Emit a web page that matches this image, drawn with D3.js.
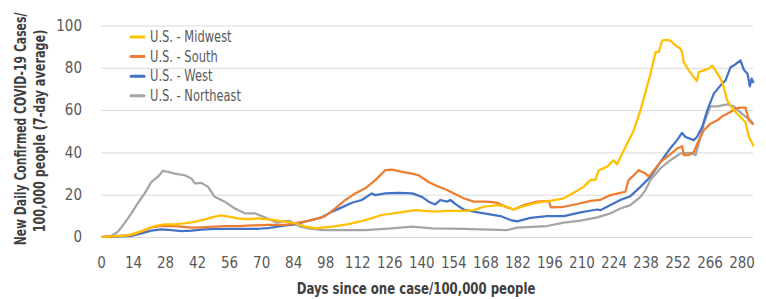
<!DOCTYPE html>
<html>
<head>
<meta charset="utf-8">
<script src="https://cdn.jsdelivr.net/npm/d3@7"></script>
<style>
  body { margin: 0; background: #fff; }
  svg { display: block; }
  text { font-family: "DejaVu Sans Condensed", "Liberation Sans", sans-serif; }
</style>
</head>
<body>
<svg id="chart" width="766" height="299"></svg>
<script>
// tick labels
const xTicks = [0, 14, 28, 42, 56, 70, 84, 98, 112, 126, 140, 154, 168, 182, 196, 210, 224, 238, 252, 266, 280];
const yTicks = [0, 20, 40, 60, 80, 100];

// series names (legend order)
const seriesNames = ['U.S. - Midwest', 'U.S. - South', 'U.S. - West', 'U.S. - Northeast'];
const seriesColors = ['#ffc000', '#ed7d31', '#4472c4', '#a5a5a5'];

// [day, cases per 100k]
const midwest = [[0,0],[4.4,0.3],[10.4,0.5],[14.7,1.7],[19.1,3.3],[23.5,5.2],[27.9,6],[32.2,6],[36.6,6.5],[41,7.2],[45.4,8.3],[49.7,9.6],[52.6,10.2],[55.6,9.6],[59.9,8.8],[64.3,8.5],[68.7,8.8],[73,8.3],[77.6,7.7],[84.9,6.5],[89.2,4.9],[93.6,4.1],[101,4.9],[108.2,6.1],[115.5,8],[122.8,10.4],[130.1,11.5],[137.4,12.7],[141.7,12.3],[146.1,12],[151.2,12.4],[158.5,12.3],[162.9,12.7],[167.3,14.3],[173.1,15.1],[177.5,14.3],[180.4,13],[184.8,14.6],[190.6,16.2],[196.4,17.1],[202.3,18.3],[206.6,20.9],[211,23.7],[214,27],[216.1,27],[217.6,31.6],[221.2,33.2],[222.7,34.8],[224.1,36.3],[225.6,34.3],[227.8,39.5],[230,44.2],[232.9,50.5],[235.8,59.9],[238,68.5],[240.2,77.2],[242.4,87.4],[243.8,87.4],[245.3,92.9],[246.8,93.2],[248.9,92.9],[251.1,90.6],[253.3,89],[254,87.4],[254.7,82.7],[256.9,78.8],[259.1,75.6],[260.5,73.7],[261.3,78],[263.5,78.8],[265.7,79.6],[267.1,81.1],[268.6,78.8],[270.8,74.9],[272.2,70.9],[273.7,64.6],[276.6,59.9],[279.5,56.7],[281.7,54.4],[283.2,47.3],[285.3,42.9]];

const south = [[0,0],[7.4,0.5],[13.3,0.9],[17.6,2.5],[22,4.6],[26.4,5.3],[30.8,5.2],[35.1,4.9],[39.5,4.4],[43.9,4.6],[49.7,4.9],[54.1,5.2],[59.9,5.2],[65.8,5.5],[73,5.7],[80.5,5.7],[86.3,6.8],[92.2,8],[98,9.9],[102.4,13.5],[106.8,17.5],[111.1,20.6],[115.5,23],[119.9,26.9],[124.3,31.6],[127.2,31.9],[131.6,30.8],[135.9,30],[138.8,29.2],[143.2,26],[146.1,24.5],[151.2,22.2],[158.5,18.3],[162.9,16.7],[168.7,16.7],[173.1,16.2],[177.5,14],[180.4,13],[184.8,15.1],[190.6,16.7],[195.7,17.1],[196.7,14],[202.3,14.3],[208.1,15.6],[214,17.1],[218.3,17.6],[222.7,19.8],[227,20.9],[229.2,21.4],[230.6,26.9],[232.9,29.2],[235.1,31.6],[238,30],[239.5,28.5],[241.7,31.6],[244.6,35.5],[249,39.2],[251.8,41.8],[254,42.9],[254.7,38.7],[256.9,38.7],[259.1,40.2],[261.3,45.8],[263.5,50.5],[266.4,53.6],[269.4,55.2],[272.2,57.5],[275.2,59.1],[277.3,60.7],[279.5,61.2],[281.7,61.2],[283.2,55.2],[284.7,53.6],[285.3,53.3]];

const west = [[0,0],[7.4,0.2],[13.3,0.5],[17.6,1.7],[22,3],[26.4,3.6],[30.8,3.3],[35.1,2.8],[39.5,3],[45.4,3.6],[51.2,3.8],[57,3.8],[62.9,3.8],[68.7,3.9],[73,4.2],[79,5.2],[84.9,6],[90.7,7.7],[96.5,9.3],[101,12],[105.3,14],[109.7,16.2],[114,17.5],[118.4,20.6],[119.9,19.8],[124.3,20.6],[130.1,20.9],[136,20.6],[140.3,19],[143.2,16.7],[146.1,15.4],[148.3,17.5],[151.2,16.7],[152.7,17.5],[155.6,15.1],[158.5,13],[162.9,12],[168.7,10.9],[174.6,9.9],[179,8],[181.9,7.4],[187.7,9],[195,9.9],[202.3,9.9],[209.6,11.6],[216.9,13],[218.3,12.7],[222.7,15.1],[227,17.5],[231.4,19.3],[235.8,23.7],[240.2,28.5],[244.6,35.5],[248.9,42],[251.8,45.8],[254,49.2],[255.5,47.3],[259.1,45.8],[260.5,47.3],[262.8,52],[265,59.9],[267.9,67.8],[270.8,71.7],[273,74.1],[275.2,80.3],[277.3,81.6],[279.5,83.5],[281,79.1],[282.6,77.2],[283.6,71.2],[284.4,74.9],[285.3,72.8]];

const northeast = [[0,0],[4.4,0.5],[7.4,2.5],[10.4,6.7],[13.3,11.2],[16.2,16.2],[19.1,20.6],[22,26],[24.9,28.5],[27.1,31.3],[29.3,30.8],[32.2,30],[36.6,29.2],[39.5,27.7],[41,25.3],[43.9,25.6],[46.8,23.7],[49.7,19],[54.1,16.7],[58.5,13.5],[62.9,11.2],[67.2,11.2],[71.6,9.3],[76.9,6.8],[80,7.5],[82.7,7.5],[87,4.9],[90.6,4.1],[97,3.3],[101,3.3],[115.5,3.3],[127,4.1],[136,4.9],[144.7,4.1],[158.5,3.8],[165.8,3.6],[177.5,3.3],[181.9,4.4],[195,5.2],[202.3,6.8],[209.6,7.7],[216.9,9.3],[222.7,11.2],[227,13.5],[231.4,15.1],[235.8,19],[238,22.2],[240.2,26.9],[244.5,32.4],[248.9,36.3],[253.3,39.5],[257.7,39.8],[259.9,38.7],[261.3,44.2],[263.5,53.6],[266.4,61.8],[269.4,61.8],[273.7,62.7],[276.6,61.8],[281,57.5],[283.9,55.2],[285.3,53.3]];

const seriesData = [midwest, south, west, northeast];

const svg = d3.select('#chart');
const margin = { top: 25.5, right: 13, bottom: 62, left: 101 };
const W = 766, H = 299;
const width = W - margin.left - margin.right;
const height = H - margin.top - margin.bottom;

const g = svg.append('g')
  .attr('transform', `translate(${margin.left}, ${margin.top})`);

const x = d3.scaleLinear().domain([0, 285]).range([0, width]);
const y = d3.scaleLinear().domain([0, 100]).range([height, 0]);

// gridlines + y labels
const yAxis = g.append('g')
  .call(d3.axisLeft(y).tickValues(yTicks).tickSize(-width).tickPadding(19));
yAxis.select('.domain').remove();
yAxis.selectAll('line').attr('stroke', '#d9d9d9').attr('stroke-width', 1);
yAxis.selectAll('text')
  .attr('fill', '#595959')
  .style('font-size', '15px');

// x labels
const xAxis = g.append('g')
  .attr('transform', `translate(0, ${height})`)
  .call(d3.axisBottom(x).tickValues(xTicks).tickSize(0).tickPadding(20));
xAxis.select('.domain').remove();
xAxis.selectAll('text')
  .attr('fill', '#595959')
  .style('font-size', '15px');

// lines, drawn so Midwest ends up on top
const line = d3.line()
  .x(d => x(d[0]))
  .y(d => y(d[1]));

[3, 2, 1, 0].forEach(i => {
  g.append('path')
    .datum(seriesData[i])
    .attr('fill', 'none')
    .attr('stroke', seriesColors[i])
    .attr('stroke-width', 2.25)
    .attr('stroke-linejoin', 'round')
    .attr('d', line);
});

// legend (condensed a bit to match the narrow face of the original)
const legend = svg.append('g').attr('transform', 'translate(130, 37)');
seriesNames.forEach((name, i) => {
  const row = legend.append('g').attr('transform', `translate(0, ${i * 19.6})`);
  row.append('line')
    .attr('x1', 1).attr('x2', 14)
    .attr('stroke', seriesColors[i])
    .attr('stroke-width', 3)
    .attr('stroke-linecap', 'round');
  row.append('text')
    .attr('transform', 'translate(20, 0) scale(0.85, 1)')
    .attr('dy', '0.35em')
    .attr('fill', '#595959')
    .style('font-size', '15px')
    .text(name);
});

// bold titles squeezed horizontally to a target width
function squeezedTitle(label, cx, cy, angle, targetWidth) {
  const t = svg.append('text')
    .attr('text-anchor', 'middle')
    .attr('fill', '#404040')
    .style('font-size', '15px')
    .style('font-weight', 'bold')
    .text(label);
  const k = Math.min(1, targetWidth / t.node().getComputedTextLength());
  t.attr('transform', `translate(${cx}, ${cy}) rotate(${angle}) scale(${k}, 1)`);
}

squeezedTitle('Days since one case/100,000 people', 416, 294, 0, 239);
squeezedTitle('New Daily Confirmed COVID-19 Cases/', 26, 129, -90, 233);
squeezedTitle('100,000 people (7-day average)', 45, 131, -90, 203);
</script>
</body>
</html>
